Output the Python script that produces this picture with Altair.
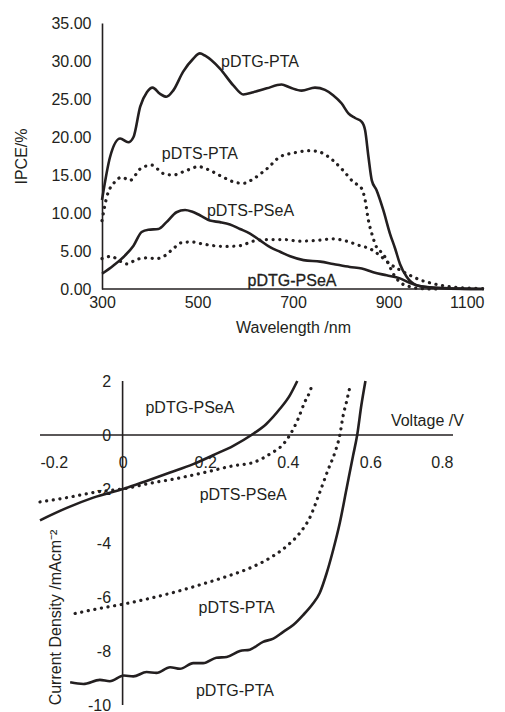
import altair as alt
import pandas as pd

FONT = "Liberation Sans"
INK = "#231f20"

# ---------------- IPCE spectra (top panel) ----------------
wl_dtg_pta = [300, 317, 338, 355, 366, 380, 394, 406, 421, 435, 449, 470, 491, 505, 516, 547, 575, 596, 617, 645,
              676, 694, 718, 746, 767, 784, 802, 816, 830, 844, 851, 858, 865, 875, 889, 903, 914, 924, 938, 959,
              987, 1029, 1100]
ipce_dtg_pta = [11.7, 17.4, 19.8, 19.3, 20.0, 24.0, 25.9, 26.5, 25.7, 25.3, 26.1, 28.6, 30.3, 31.0, 30.7, 29.0, 26.8,
                25.6, 25.9, 26.4, 26.9, 26.5, 26.1, 26.5, 26.2, 25.5, 24.4, 23.1, 22.5, 22.0, 20.9, 17.4, 14.3, 13.0,
                10.4, 7.3, 5.3, 3.3, 1.6, 0.5, 0.2, 0.05, 0.0]

wl_dts_pta = [300, 310, 327, 341, 359, 380, 404, 428, 449, 477, 502, 526, 554, 575, 596, 617, 645, 673, 701, 736,
              757, 784, 805, 826, 844, 851, 858, 865, 875, 889, 900, 910, 924, 945, 966, 1000]
ipce_dts_pta = [9.0, 12.1, 14.1, 14.7, 14.3, 15.8, 16.3, 15.2, 15.0, 15.6, 16.1, 15.6, 14.7, 14.1, 13.9, 14.5, 15.8,
                17.4, 17.9, 18.2, 18.0, 16.9, 15.6, 14.1, 13.2, 11.7, 9.0, 7.3, 5.5, 4.6, 3.3, 2.0, 0.9, 0.3, 0.05,
                0.0]

wl_dtg_psea = [300, 324, 348, 366, 383, 397, 418, 435, 456, 474, 488, 505, 526, 547, 568, 589, 610, 631, 652, 673,
               694, 722, 757, 784, 819, 844, 868, 896, 924, 945, 966, 994, 1050, 1100]
ipce_dtg_psea = [2.0, 3.1, 4.4, 5.7, 7.5, 7.8, 7.9, 8.8, 10.1, 10.4, 10.2, 9.7, 9.0, 8.8, 8.5, 7.9, 7.3, 6.4, 5.5, 4.9,
                 4.3, 3.8, 3.6, 3.3, 2.9, 2.7, 2.2, 1.8, 1.4, 0.8, 0.35, 0.2, 0.05, 0.0]

wl_dts_psea = [300, 320, 334, 352, 373, 394, 414, 432, 449, 467, 488, 505, 533, 561, 589, 617, 645, 680, 715, 750,
               784, 812, 840, 861, 882, 903, 924, 945, 966, 994, 1022, 1064, 1100]
ipce_dts_psea = [4.0, 4.3, 3.8, 3.3, 3.9, 4.1, 4.0, 4.4, 5.3, 6.1, 6.2, 6.0, 5.7, 5.6, 5.7, 6.3, 6.5, 6.5, 6.3, 6.4,
                 6.6, 6.3, 5.7, 5.3, 4.4, 3.3, 2.5, 1.8, 1.2, 0.7, 0.35, 0.13, 0.05]

ipce_ticks = [0, 5, 10, 15, 20, 25, 30, 35]
wl_ticks = [300, 500, 700, 900, 1100]

ipce_label_text = ["pDTG-PTA", "pDTS-PTA", "pDTS-PSeA", "pDTG-PSeA"]
ipce_label_x = [631, 505, 611, 698]
ipce_label_y = [29.9, 17.7, 10.3, 1.0]
ipce_label_heavy = [0, 0, 0, 1]

# ---------------- J-V curves (bottom panel) ----------------
v_dtg_psea = [-0.2, -0.135, -0.071, 0.003, 0.058, 0.115, 0.171, 0.219, 0.268, 0.312, 0.348, 0.381, 0.405, 0.423]
j_dtg_psea = [-3.16, -2.70, -2.32, -1.99, -1.70, -1.39, -1.08, -0.75, -0.40, 0.0, 0.41, 0.97, 1.47, 2.0]

v_dts_psea = [-0.2, -0.135, -0.063, 0.003, 0.066, 0.131, 0.203, 0.268, 0.316, 0.356, 0.389, 0.405, 0.425, 0.441,
              0.453, 0.461]
j_dts_psea = [-2.48, -2.32, -2.11, -1.99, -1.79, -1.61, -1.37, -1.14, -1.02, -0.71, -0.34, 0.0, 0.60, 1.22, 1.59, 1.96]

v_dts_pta = [-0.115, -0.055, 0.003, 0.066, 0.131, 0.187, 0.252, 0.308, 0.356, 0.397, 0.429, 0.453, 0.477, 0.498,
             0.514, 0.526, 0.534, 0.542, 0.552]
j_dts_pta = [-6.61, -6.42, -6.26, -6.05, -5.80, -5.55, -5.24, -4.93, -4.56, -4.12, -3.63, -3.07, -2.14, -1.27, -0.65,
             0.0, 0.72, 1.22, 1.90]

v_dtg_pta = [-0.127, -0.095, -0.055, -0.031, 0.003, 0.026, 0.058, 0.082, 0.115, 0.139, 0.171, 0.195, 0.227, 0.252,
             0.284, 0.308, 0.340, 0.365, 0.389, 0.413, 0.437, 0.461, 0.477, 0.494, 0.510, 0.526, 0.542, 0.558, 0.568,
             0.578, 0.588]
j_dtg_pta = [-9.16, -9.22, -9.07, -9.12, -8.91, -8.94, -8.78, -8.81, -8.60, -8.66, -8.45, -8.45, -8.25, -8.22, -8.00,
             -7.95, -7.66, -7.54, -7.29, -7.04, -6.67, -6.24, -5.86, -5.12, -4.25, -3.25, -2.01, -0.77, 0.0, 1.09, 2.0]

v_ticks = [-0.2, 0, 0.2, 0.4, 0.6, 0.8]
j_ticks = [-10, -8, -6, -4, -2, 0, 2]

jv_label_text = ["pDTG-PSeA", "pDTS-PSeA", "pDTS-PTA", "pDTG-PTA", "Voltage /V"]
jv_label_x = [0.163, 0.292, 0.276, 0.272, 0.738]
jv_label_y = [1.0, -2.22, -6.42, -9.49, 0.51]

# ---------------- helpers ----------------
def series_df(pairs):
    rows = []
    for name, style, xs, ys in pairs:
        for i, (a, b) in enumerate(zip(xs, ys)):
            rows.append({"series": name, "style": style, "i": i, "x": a, "y": b})
    return pd.DataFrame(rows)


def lines(df, x_enc, y_enc):
    solid = alt.Chart(df).transform_filter(alt.datum.style == "solid").mark_line(
        color=INK, strokeWidth=2.6, interpolate="monotone"
    ).encode(x=x_enc, y=y_enc, detail="series:N", order="i:Q")
    dotted = alt.Chart(df).transform_filter(alt.datum.style == "dotted").mark_line(
        color=INK, strokeWidth=3.2, strokeDash=[0.1, 6.6], strokeCap="round", interpolate="monotone"
    ).encode(x=x_enc, y=y_enc, detail="series:N", order="i:Q")
    return solid, dotted


# ---------------- top panel ----------------
W1, H1 = 444, 266
AX_SHIFT = 62  # plot-left to the 300 nm axis, in px
x0_top = 300 - AX_SHIFT * (1100 - 300) / (W1 - AX_SHIFT)

ipce_df = series_df([
    ("pDTG-PTA", "solid", wl_dtg_pta, ipce_dtg_pta),
    ("pDTS-PTA", "dotted", wl_dts_pta, ipce_dts_pta),
    ("pDTG-PSeA", "solid", wl_dtg_psea, ipce_dtg_psea),
    ("pDTS-PSeA", "dotted", wl_dts_psea, ipce_dts_psea),
])

x_top = alt.X("x:Q", scale=alt.Scale(domain=[x0_top, 1100], nice=False, zero=False),
              axis=alt.Axis(values=wl_ticks, format="d", domain=False, ticks=False, grid=False, labelPadding=5,
                            labelOverlap=False,
                            title="Wavelength /nm", titleX=253, titleY=38, titleBaseline="middle"))
y_top = alt.Y("y:Q", scale=alt.Scale(domain=[0, 35], nice=False, zero=False),
              axis=alt.Axis(values=ipce_ticks, format=".2f", offset=-AX_SHIFT, ticks=False, grid=False,
                            domainColor=INK, domainWidth=1.6, labelPadding=11, labelOverlap=False,
                            title="IPCE/%", titleX=-81, titleBaseline="middle"))

top_axis_df = pd.DataFrame({"x": [300], "x2": [1100], "y": [0]})
top_rule = alt.Chart(top_axis_df).mark_rule(color=INK, strokeWidth=1.6).encode(
    x=x_top, x2="x2:Q", y=y_top)

ipce_labels = pd.DataFrame({"x": ipce_label_x, "y": ipce_label_y, "label": ipce_label_text,
                            "heavy": ipce_label_heavy})
top_text = alt.Chart(ipce_labels).transform_filter(alt.datum.heavy == 0).mark_text(
    font=FONT, fontSize=16, color=INK, align="center", baseline="middle"
).encode(x=x_top, y=y_top, text="label:N")
top_text_heavy = alt.Chart(ipce_labels).transform_filter(alt.datum.heavy == 1).mark_text(
    font=FONT, fontSize=16, color=INK, stroke=INK, strokeWidth=0.3, align="center", baseline="middle"
).encode(x=x_top, y=y_top, text="label:N")

s1, d1 = lines(ipce_df, x_top, y_top)
top = alt.layer(s1, top_rule, d1, top_text, top_text_heavy).properties(width=W1, height=H1)

# ---------------- bottom panel ----------------
W2, H2 = 413, 324
jv_df = series_df([
    ("pDTG-PSeA", "solid", v_dtg_psea, j_dtg_psea),
    ("pDTS-PSeA", "dotted", v_dts_psea, j_dts_psea),
    ("pDTS-PTA", "dotted", v_dts_pta, j_dts_pta),
    ("pDTG-PTA", "solid", v_dtg_pta, j_dtg_pta),
])

x_off = -H2 * (0 - (-10)) / 12
y_off = -W2 * (0 - (-0.2)) / 1.0

x_bot = alt.X("x:Q", scale=alt.Scale(domain=[-0.2, 0.8], nice=False, zero=False),
              axis=alt.Axis(values=v_ticks, labelExpr="toString(datum.value)", offset=x_off, domain=False,
                            ticks=False, grid=False, labelPadding=19, labelOverlap=False, title=None))
y_bot = alt.Y("y:Q", scale=alt.Scale(domain=[-10, 2], nice=False, zero=False),
              axis=alt.Axis(values=j_ticks, labelExpr="toString(datum.value)", offset=y_off, domain=False,
                            ticks=False, grid=False, labelPadding=12, labelOverlap=False,
                            title="Current Density /mAcm\u207b\u00b2", titleX=-67, titleY=236,
                            titleBaseline="middle"))

cross_df = pd.DataFrame({"x": [-0.2, 0.0], "x2": [0.8, 0.0], "y": [0.0, -10.0], "y2": [0.0, 2.0]})
cross = alt.Chart(cross_df).mark_rule(color=INK, strokeWidth=1.6).encode(
    x=x_bot, x2="x2:Q", y=y_bot, y2="y2:Q")

jv_labels = pd.DataFrame({"x": jv_label_x, "y": jv_label_y, "label": jv_label_text})
bot_text = alt.Chart(jv_labels).mark_text(font=FONT, fontSize=16, color=INK, align="center",
                                          baseline="middle").encode(x=x_bot, y=y_bot, text="label:N")

s2, d2 = lines(jv_df, x_bot, y_bot)
bottom = alt.layer(s2, cross, d2, bot_text).properties(width=W2, height=H2)

chart = alt.vconcat(top, bottom, spacing=38).properties(
    padding={"left": 5, "top": 7, "right": 0, "bottom": 0}
).configure_view(stroke=None).configure_axis(
    labelFont=FONT, labelFontSize=16, labelColor=INK,
    titleFont=FONT, titleFontSize=16, titleColor=INK, titleFontWeight="normal"
)

chart.save("out.html", embed_options={"renderer": "svg", "actions": False})
